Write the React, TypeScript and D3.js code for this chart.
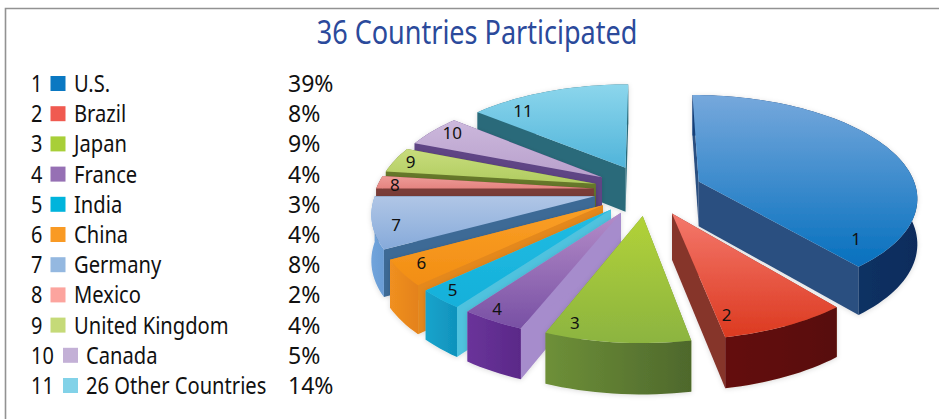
import * as d3 from "d3";

const ranks = [1, 2, 3, 4, 5, 6, 7, 8, 9, 10, 11];
const countries = ["U.S.", "Brazil", "Japan", "France", "India", "China", "Germany", "Mexico", "United Kingdom", "Canada", "26 Other Countries"];
const shares = [39, 8, 9, 4, 3, 4, 8, 2, 4, 5, 14];

const legendColors = ["#0a78c2", "#f05a50", "#a8cf38", "#9670b4", "#00b4dc", "#f99a24", "#94b8e0", "#fca49e", "#c5da78", "#c3b0d6", "#82d2e8"];
const topLight = ["#76a8dc", "#f4786c", "#b2d238", "#b48cc8", "#22bce2", "#fa9f26", "#b0c6e6", "#ee9c98", "#c8dc7c", "#ccb8dc", "#8cd6ec"];
const topDark = ["#0670be", "#dc3a20", "#8cb440", "#7850a4", "#14b0da", "#f28e14", "#86aada", "#e48480", "#b0cc60", "#b8a0cc", "#50b4da"];
const rimLight = ["#123f78", "#641008", "#6e9038", "#6a349a", "#16a4cc", "#f09020", "#70a4dc", "#7a3e38", "#66782a", "#5f4585", "#2a6a7a"];
const rimDark = ["#0c2c5c", "#581008", "#4e682c", "#5a2888", "#1092bc", "#e4821c", "#6a9cd4", "#7a3e38", "#66782a", "#5f4585", "#2a6a7a"];
const sideColors = ["#2c4f80", "#86342c", "#6e9038", "#a68ccc", "#50c2de", "#e4881e", "#3d6a96", "#7a3e38", "#66782a", "#5f4585", "#2a6a7a"];

// Where each slice number sits inside its slice
const labelFraction = [0.92, 0.9, 0.85, 0.65, 0.6, 0.6, 0.4, 0.3, 0.5, 0.6, 0.22];
const labelRadius = [0.85, 0.85, 0.9, 0.92, 0.92, 0.9, 0.9, 0.92, 0.92, 0.9, 0.85];

const width = 939;
const height = 419;
const font = "'Noto Sans', sans-serif";
const condense = 0.84;

// Perspective model of the pie: unit circle, tilted, front edge nearer the viewer
const center = { x: 648, y: 190 };
const radiusX = 218;
const radiusY = 101;
const perspective = 0.141;
const explode = 0.25;
const thickness = 45;

const legendY = d3.scalePoint<number>().domain(ranks).range([84, 386]);
const arcs = d3.pie<number>().sort(null).startAngle(0).endAngle(2 * Math.PI)(shares);

// Back slices first, then round both sides toward the front
const paintOrder = [10, 9, 8, 7, 6, 5, 4, 3, 0, 1, 2];

type Pt = [number, number];

function project(u: number, v: number): Pt {
    const f = 1 / (1 - perspective * v);
    return [center.x + radiusX * u * f, center.y + radiusY * v * f];
}

function drop([x, y]: Pt): Pt {
    const f = Math.max(0.6, 1 + (y - center.y) / (radiusY * 5));
    return [x, y + thickness * Math.sqrt(f)];
}

const poly = d3.line<Pt>();

function sliceShape(startAngle: number, endAngle: number) {
    const mid = (startAngle + endAngle) / 2;
    const ox = explode * Math.sin(mid);
    const oy = -explode * Math.cos(mid);
    const steps = Math.max(4, Math.ceil((endAngle - startAngle) * 30));
    const rim = d3.range(steps + 1).map((i): Pt => {
        const a = startAngle + ((endAngle - startAngle) * i) / steps;
        return project(ox + Math.sin(a), oy - Math.cos(a));
    });
    return { apex: project(ox, oy), rim, ox, oy, startAngle, endAngle };
}

export default function App() {
    const shapes = arcs.map((a) => sliceShape(a.startAngle, a.endAngle));
    return (
        <svg
            width={width}
            height={height}
            style={{ position: "absolute", left: 0, top: 0, background: "#fff" }}
            fontFamily={font}
        >
            <defs>
                {shares.map((_, i) => (
                    <g key={i}>
                        <linearGradient id={`top-${i}`} x1="0" x2="0" y1="0" y2="1">
                            <stop offset="0%" stopColor={topLight[i]} />
                            <stop offset="100%" stopColor={topDark[i]} />
                        </linearGradient>
                        <linearGradient id={`rim-${i}`} x1="0" x2="1" y1="0" y2="0">
                            <stop offset="0%" stopColor={rimLight[i]} />
                            <stop offset="100%" stopColor={rimDark[i]} />
                        </linearGradient>
                    </g>
                ))}
                <filter id="soft" x="-10%" y="-10%" width="120%" height="125%">
                    <feDropShadow dx="0" dy="1" stdDeviation="2.5" floodColor="#000" floodOpacity="0.14" />
                </filter>
            </defs>

            {/* Frame, open at the bottom and right */}
            <path d="M5.5 419 V8.5 H939" fill="none" stroke="#929292" strokeWidth={1.6} />

            <text transform="translate(477 44) scale(0.845 1)" textAnchor="middle" fontSize={32} fill="#2b4a9b">
                36 Countries Participated
            </text>

            {/* Legend */}
            {ranks.map((rank, i) => {
                const y = (legendY(rank) ?? 0) + 8;
                const wide = rank >= 10;
                return (
                    <g key={rank} fontSize={24} fill="#111">
                        <text transform={`translate(31 ${y}) scale(0.83 1)`}>{rank}</text>
                        <rect x={wide ? 63 : 50.5} y={y - 16} width={15} height={15} fill={legendColors[i]} />
                        <text transform={`translate(${wide ? 86 : 74} ${y}) scale(${condense} 1)`}>{countries[i]}</text>
                        <text transform={`translate(288 ${y}) scale(0.96 1)`}>{shares[i]}%</text>
                    </g>
                );
            })}

            {/* Pie */}
            {paintOrder.map((i) => {
                const s = shapes[i];
                const bottomApex = drop(s.apex);
                const rimBottom = s.rim.map(drop);
                const last = s.rim[s.rim.length - 1];
                const first = s.rim[0];
                return (
                    <g key={i} filter="url(#soft)">
                        <path d={poly([s.apex, first, rimBottom[0], bottomApex]) + "Z"} fill={sideColors[i]} />
                        <path d={poly([s.apex, last, rimBottom[rimBottom.length - 1], bottomApex]) + "Z"} fill={sideColors[i]} />
                        <path d={poly([...s.rim, ...[...rimBottom].reverse()]) + "Z"} fill={`url(#rim-${i})`} />
                        <path d={poly([s.apex, ...s.rim]) + "Z"} fill={`url(#top-${i})`} />
                    </g>
                );
            })}

            {/* Slice numbers */}
            {shapes.map((s, i) => {
                const a = s.startAngle + (s.endAngle - s.startAngle) * labelFraction[i];
                const r = labelRadius[i];
                const [x, y] = project(s.ox + r * Math.sin(a), s.oy - r * Math.cos(a));
                return (
                    <text key={i} x={x} y={y + 6} textAnchor="middle" fontSize={17} fill="#111">
                        {ranks[i]}
                    </text>
                );
            })}
        </svg>
    );
}
